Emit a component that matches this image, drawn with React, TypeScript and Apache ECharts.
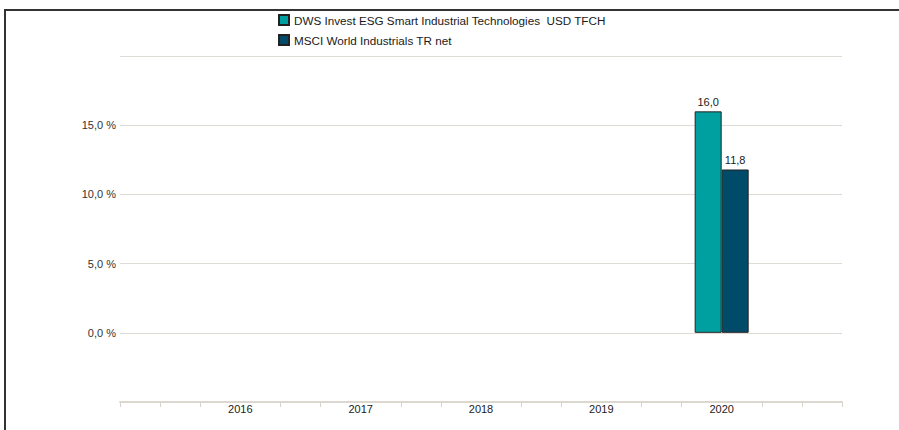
import React, { useEffect, useRef } from "react";
import * as echarts from "echarts";

const years = ["2016", "2017", "2018", "2019", "2020"];
const fundName = "DWS Invest ESG Smart Industrial Technologies  USD TFCH";
const benchName = "MSCI World Industrials TR net";
const fundValues: (number | null)[] = [null, null, null, null, 16.0];
const benchValues: (number | null)[] = [null, null, null, null, 11.8];
const yMin = -5;
const yMax = 20;
const yStep = 5;

// axis slots: three tick steps per year, one empty year on each side
const slotsPerYear = 3;
const slotCount = (years.length + 2) * slotsPerYear - 2;
const slotIndex = (i: number) => (i + 1) * slotsPerYear;
const slots: string[] = Array.from({ length: slotCount }, () => "");
years.forEach((y, i) => (slots[slotIndex(i)] = y));
const toSlots = (vals: (number | null)[]) => {
  const out: (number | null)[] = Array.from({ length: slotCount }, () => null);
  vals.forEach((v, i) => (out[slotIndex(i)] = v));
  return out;
};

const FONT = "'Liberation Sans', Arial, sans-serif";
const fmt = (v: number) => v.toFixed(1).replace(".", ",");

export default function App() {
  const ref = useRef<HTMLDivElement>(null);
  useEffect(() => {
    if (!ref.current) return;
    const chart = echarts.init(ref.current, undefined, { renderer: "svg" });
    chart.setOption({
      animation: false,
      textStyle: { fontFamily: FONT },
      graphic: [
        { type: "line", shape: { x1: 4, y1: 10, x2: 899, y2: 10 }, style: { stroke: "#333", lineWidth: 2 } },
        { type: "line", shape: { x1: 5, y1: 10, x2: 5, y2: 430 }, style: { stroke: "#333", lineWidth: 2 } },
      ],
      legend: {
        orient: "vertical",
        left: 278,
        top: 14,
        padding: 0,
        itemWidth: 10,
        itemHeight: 10,
        itemGap: 8,
        itemTextGap: 4,
        icon: "rect",
        textStyle: { fontSize: 11.7, color: "#1a1a1a", fontFamily: FONT },
        data: [fundName, benchName],
      },
      grid: { left: 120, right: 57, top: 56, bottom: 28, containLabel: false },
      xAxis: {
        type: "category",
        boundaryGap: false,
        data: slots,
        axisLine: { onZero: false, lineStyle: { color: "#dcd8cf", width: 2 } },
        axisTick: {
          show: true,
          length: 5,
          interval: (_i: number, v: string) => v === "",
          lineStyle: { color: "#d8d4cb", width: 1 },
        },
        axisLabel: { interval: 0, fontSize: 11, color: "#222", margin: 1, fontFamily: FONT },
        splitLine: { show: false },
      },
      yAxis: {
        type: "value",
        min: yMin,
        max: yMax,
        interval: yStep,
        axisLine: { show: false },
        axisTick: { show: false },
        axisLabel: {
          fontSize: 11,
          color: "#333",
          margin: 4,
          fontFamily: FONT,
          formatter: (v: number) => (v < 0 || v >= yMax ? "" : fmt(v) + " %"),
        },
        splitLine: { lineStyle: { color: "#dedbd5", width: 1 } },
      },
      series: [
        {
          name: fundName,
          type: "bar",
          data: toSlots(fundValues),
          barWidth: 27,
          barGap: "0%",
          itemStyle: { color: "#00a0a0", borderColor: "#222", borderWidth: 1 },
          label: {
            show: true,
            position: "top",
            distance: 4,
            fontSize: 11,
            color: "#1a1a1a",
            fontFamily: FONT,
            formatter: (p: any) => fmt(p.value),
          },
        },
        {
          name: benchName,
          type: "bar",
          data: toSlots(benchValues),
          barWidth: 27,
          barGap: "0%",
          itemStyle: { color: "#004a6a", borderColor: "#222", borderWidth: 1 },
          label: {
            show: true,
            position: "top",
            distance: 4,
            fontSize: 11,
            color: "#1a1a1a",
            fontFamily: FONT,
            formatter: (p: any) => fmt(p.value),
          },
        },
      ],
    });
    return () => chart.dispose();
  }, []);
  return (
    <div
      ref={ref}
      style={{ position: "absolute", left: 0, top: 0, width: 899, height: 430, background: "#fff" }}
    />
  );
}
